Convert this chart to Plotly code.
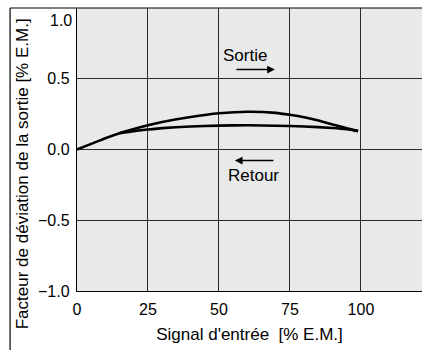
import plotly.graph_objects as go

# Output deviation curves (input signal in % of full scale)
sortie_x = [0, 5, 10, 15, 20, 25, 30, 40, 50, 60, 70, 75, 80, 85, 90, 95, 99]
sortie_y = [0.0, 0.04, 0.08, 0.115, 0.145, 0.172, 0.195, 0.23, 0.256, 0.267, 0.259, 0.245, 0.228, 0.205, 0.177, 0.15, 0.13]
retour_x = [99, 95, 90, 80, 70, 60, 50, 40, 30, 25, 20, 15]
retour_y = [0.13, 0.143, 0.152, 0.163, 0.168, 0.171, 0.169, 0.163, 0.151, 0.141, 0.13, 0.116]

x_ticks = [0, 25, 50, 75, 100]
y_ticks = [-1.0, -0.5, 0.0, 0.5, 1.0]
y_tick_text = ["\u22121.0", "\u22120.5", "0.0", "0.5", ""]
top_label = "1.0"

x_title = "Signal d'entr\u00e9e \u00a0[% E.M.]"
y_title = "Facteur de d\u00e9viation de la sortie [% E.M.]"

FONT = "Liberation Sans, Arial, Helvetica, sans-serif"

fig = go.Figure()
line_style = dict(color="black", width=2.6, shape="spline", smoothing=0.6)
fig.add_trace(go.Scatter(x=sortie_x, y=sortie_y, mode="lines", line=line_style,
                         name="Sortie", hoverinfo="skip"))
fig.add_trace(go.Scatter(x=retour_x, y=retour_y, mode="lines", line=line_style,
                         name="Retour", hoverinfo="skip"))

# Direction labels with arrows
fig.add_annotation(x=59.3, y=0.664, text="Sortie", showarrow=False,
                   font=dict(size=17, color="black", family=FONT))
fig.add_annotation(x=69.7, y=0.565, ax=55.6, ay=0.565, xref="x", yref="y",
                   axref="x", ayref="y", text="", showarrow=True,
                   arrowhead=2, arrowsize=1.1, arrowwidth=1.4, arrowcolor="black")
fig.add_annotation(x=62.1, y=-0.184, text="Retour", showarrow=False,
                   font=dict(size=17, color="black", family=FONT))
fig.add_annotation(x=55.6, y=-0.078, ax=69.7, ay=-0.078, xref="x", yref="y",
                   axref="x", ayref="y", text="", showarrow=True,
                   arrowhead=2, arrowsize=1.1, arrowwidth=1.4, arrowcolor="black")

# Top tick label sits just below the upper edge of the plot
fig.add_annotation(x=0, y=y_ticks[-1], xref="paper", yref="y", text=top_label,
                   showarrow=False, xanchor="right", yanchor="middle",
                   xshift=-3, yshift=-12, font=dict(size=16, color="black", family=FONT))

# Vertical axis title, set lower than the plot's midpoint
fig.add_annotation(x=-0.159, y=0.413, xref="paper", yref="paper", text=y_title,
                   textangle=-90, showarrow=False, xanchor="center", yanchor="middle",
                   font=dict(size=17, color="black", family=FONT))

# Outer frame: top and left rules
fig.add_shape(type="line", xref="paper", yref="paper", x0=-0.194, x1=1.0, y0=1.0, y1=1.0,
              line=dict(color="black", width=1.2))
fig.add_shape(type="line", xref="paper", yref="paper", x0=-0.194, x1=-0.194, y0=1.0, y1=-0.215,
              line=dict(color="black", width=1.2))

fig.update_layout(
    width=422, height=350,
    margin=dict(l=77, r=0, t=8, b=59),
    paper_bgcolor="white",
    plot_bgcolor="#e8e9e9",
    showlegend=False,
    font=dict(family=FONT, color="black"),
)
fig.update_xaxes(
    range=[0, 121.5], tickvals=x_ticks, ticks="", showgrid=True,
    gridcolor="#2a2a2a", gridwidth=1.2, zeroline=False,
    showline=True, linecolor="black", linewidth=1.4,
    tickfont=dict(size=16, family=FONT), ticklabelstandoff=4,
    title=dict(text=x_title, font=dict(size=17, family=FONT), standoff=10),
)
fig.update_yaxes(
    range=[-1.0, 1.0], tickvals=y_ticks, ticktext=y_tick_text, ticks="", showgrid=True,
    gridcolor="#2a2a2a", gridwidth=1.2, zeroline=False,
    showline=True, linecolor="black", linewidth=1.4,
    tickfont=dict(size=16, family=FONT), ticklabelstandoff=3,
)

fig.write_html("out.html")
